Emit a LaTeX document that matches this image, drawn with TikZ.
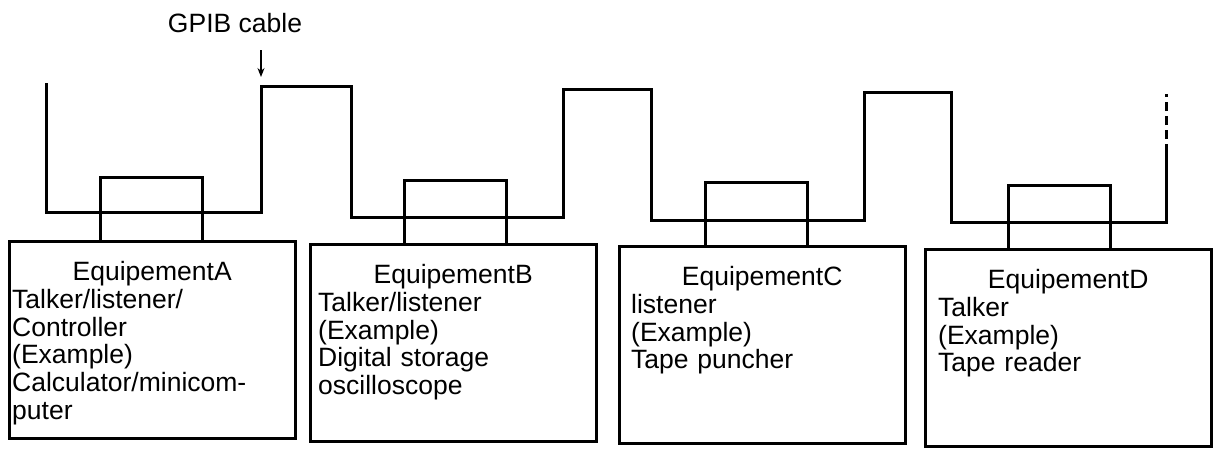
\documentclass[tikz,border=0pt]{standalone}
\usepackage{fontspec}
\setmainfont{Liberation Sans}
\usetikzlibrary{arrows.meta,positioning}
\setlength{\parindent}{0pt}

\begin{document}
\begin{tikzpicture}[
    x=1pt, y=-1pt, font=\fontsize{26.5}{27.8}\selectfont, >={Stealth[length=9pt,width=7pt]},
    equip/.style={draw, line width=3pt, anchor=north west, minimum width=286pt, minimum height=197pt, inner sep=0pt, outer sep=0pt},
    plug/.style={draw, line width=3pt, minimum width=102pt, minimum height=64pt, inner sep=0pt, outer sep=0pt},
    info/.style={anchor=north west, align=left, inner sep=0pt, text width=#1},
    cable/.style={line width=3pt, line join=miter}]
  \useasboundingbox (0,0) rectangle (1217,448);
  % equipment boxes
  \node[equip] (eqA) at (9,241) {};
  \node[equip] (eqB) at (310,244) {};
  \node[equip] (eqC) at (619,246) {};
  \node[equip] (eqD) at (925,249) {};
  \node[plug, above=0pt of eqA, xshift=-1pt] (plugA) {};
  \node[plug, above=0pt of eqB, xshift=2pt]  (plugB) {};
  \node[plug, above=0pt of eqC, xshift=-5.5pt] (plugC) {};
  \node[plug, above=0pt of eqD, xshift=-9pt] (plugD) {};
  \node[info=280pt] (txtA) at ([xshift=3pt, yshift=-20pt]eqA.north west)
    {\makebox[\hsize]{EquipementA}\\ Talker/listener/\\ Controller\\ (Example)\\ Calculator/minicom-\\ puter};
  \node[info=270pt] (txtB) at ([xshift=8pt, yshift=-20pt]eqB.north west)
    {\makebox[\hsize]{EquipementB}\\ Talker/listener\\ (Example)\\ Digital storage\\ oscilloscope};
  \node[info=262pt] (txtC) at ([xshift=12pt, yshift=-20pt]eqC.north west)
    {\makebox[\hsize]{EquipementC}\\ listener\\ (Example)\\ Tape puncher};
  \node[info=260pt] (txtD) at ([xshift=13pt, yshift=-20pt]eqD.north west)
    {\makebox[\hsize]{EquipementD}\\ Talker\\ (Example)\\ Tape reader};
  % bus cable
  \draw[cable] (46,83) |- (261,212) |- (351,86) |- (563,217) |- (651,89)
    |- (864,220) |- (951,92) |- (1166,222) -- (1166,153) coordinate (cend);
  \draw[line width=3pt, dash pattern=on 9pt off 5pt] (cend) -- (1166,94);
  \node[anchor=base] (gpib) at (235,32) {GPIB cable};
  \coordinate (atail) at (261,50);
  \coordinate (atip) at (261,77);
  \draw[->, line width=1.2pt] (atail) -- (atip);
\end{tikzpicture}
\end{document}
